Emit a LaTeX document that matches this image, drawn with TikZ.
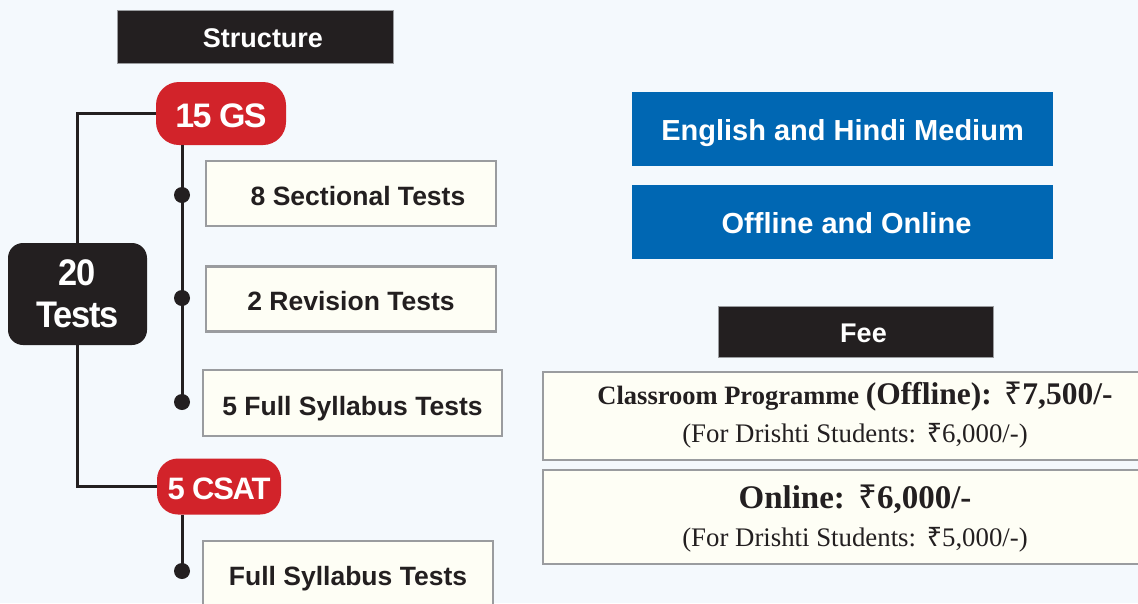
\documentclass[tikz,border=0pt]{standalone}
\usepackage{fontspec}
\setmainfont{Liberation Serif}
\setsansfont{Liberation Sans}
\newfontfamily\rupeefont{Noto Sans}
\newcommand{\rs}{{\rupeefont ₹}}
\definecolor{bg}{HTML}{F4F9FD}
\definecolor{dk}{HTML}{231F20}
\definecolor{rd}{HTML}{D2232A}
\definecolor{bl}{HTML}{0067B3}
\definecolor{iv}{HTML}{FEFEF5}
\definecolor{gr}{HTML}{9A9C9F}
\newcommand{\fs}[1]{\fontsize{#1}{1.2\dimexpr#1pt\relax}\selectfont}
\begin{document}
\begin{tikzpicture}[x=1pt,y=-1pt,
  darkbox/.style={fill=dk,draw=gr,line width=0.8pt,text=white,inner sep=0pt,text height=22pt,text depth=0pt,font=\sffamily\bfseries\fs{27}},
  pill/.style={fill=rd,text=white,inner sep=0pt,rounded corners=23pt,text height=27pt,text depth=0pt,font=\sffamily\bfseries\fs{34}\addfontfeatures{LetterSpace=-5}},
  testbox/.style={fill=dk,text=white,inner sep=0pt,rounded corners=15pt,align=center,font=\sffamily\bfseries\fontsize{37}{42}\selectfont\addfontfeatures{LetterSpace=-3,FakeStretch=0.93}},
  item/.style={fill=iv,draw=gr,line width=2.2pt,inner sep=0pt,text=dk,text height=24pt,text depth=0pt,font=\sffamily\bfseries\fs{26.5}},
  bluebox/.style={fill=bl,text=white,inner sep=0pt,text height=23pt,text depth=0pt,font=\sffamily\bfseries\fs{29}},
  feebox/.style={fill=iv,draw=gr,line width=2.2pt,inner sep=0pt},
  conn/.style={draw=dk,line width=3pt},
  dot/.style={circle,fill=dk,inner sep=0pt,minimum size=16pt},
  feetext/.style={anchor=base,text=dk,inner sep=0pt}]
\clip (0,0) rectangle (1138,603);
\fill[bg] (0,0) rectangle (1138,603);
% left tree
\node[darkbox,minimum width=276pt,minimum height=53pt] (structure) at (255,36.5) {\hspace{16pt}Structure};
\node[pill,minimum width=130pt,minimum height=63pt] (gs) at (221,113.5) {15 GS};
\node[testbox,minimum width=139pt,minimum height=102pt] (tests) at (77.5,294) {20\\Tests};
\node[pill,minimum width=124pt,minimum height=56pt,rounded corners=21pt,text height=25pt,font=\sffamily\bfseries\fs{31}\addfontfeatures{LetterSpace=-4}] (csat) at (219,486.5) {5 CSAT};
\draw[conn] (gs.west) -| (tests.north);
\draw[conn] (tests.south) |- (csat.west);
\node[dot] (d1) at (182,195) {};
\node[dot] (d2) at (182,298) {};
\node[dot] (d3) at (182,402) {};
\node[dot] (d4) at (182,571) {};
\draw[conn] (gs.south -| d1) -- (d3.center);
\draw[conn] (csat.south -| d4) -- (d4.center);
\node[item,minimum width=290pt,minimum height=65pt] (s8) at (351,193.5) {\hspace{14pt}8 Sectional Tests};
\node[item,minimum width=290pt,minimum height=65pt,text height=22pt] (rev) at (351,299) {2 Revision Tests};
\node[item,minimum width=299pt,minimum height=66pt] (full5) at (352.5,403) {5 Full Syllabus Tests};
\node[item,minimum width=290pt,minimum height=70pt,text height=18pt] (fullc) at (348,576) {Full Syllabus Tests};
% right side
\node[bluebox,minimum width=421pt,minimum height=74pt] (eng) at (842.5,129) {English and Hindi Medium};
\node[bluebox,minimum width=421pt,minimum height=74pt] (off) at (842.5,222) {\hspace{8pt}Offline and Online};
\node[darkbox,minimum width=275pt,minimum height=51pt] (fee) at (855.5,331.5) {\hspace{16pt}Fee};
\node[feebox,minimum width=624pt,minimum height=88pt] (fee1) at (855,416) {};
\node[feebox,minimum width=624pt,minimum height=94pt] (fee2) at (855,517) {};
\node[feetext] (f1a) at (855,404) {\bfseries\fs{26.5}Classroom Programme {\fs{31.5}(Offline):\hspace{0.4em}\rs7,500/-}};
\node[feetext] (f1b) at (855,442) {\fs{26.8}(For Drishti Students:\hspace{0.4em}\rs6,000/-)};
\node[feetext] (f2a) at (855,508) {\bfseries\fs{33}Online:\hspace{0.4em}\rs6,000/-};
\node[feetext] (f2b) at (855,546) {\fs{26.8}(For Drishti Students:\hspace{0.4em}\rs5,000/-)};
\end{tikzpicture}
\end{document}
